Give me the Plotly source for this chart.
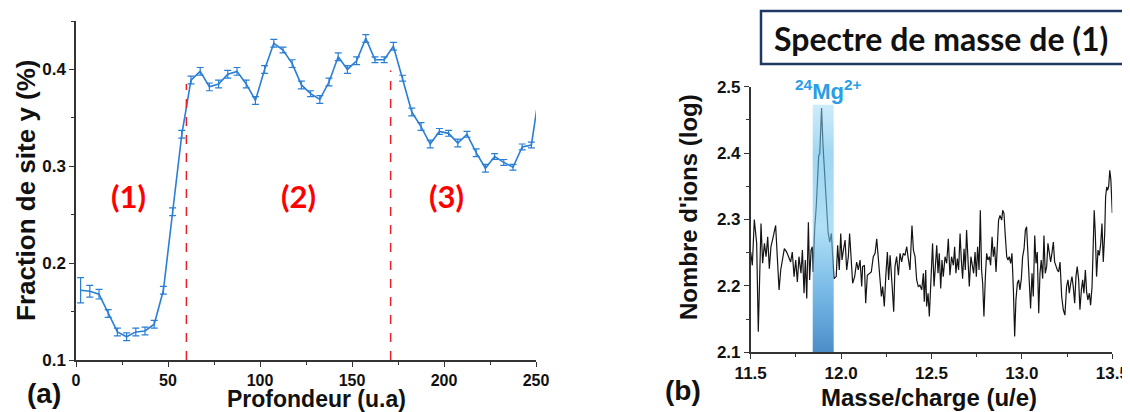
import plotly.graph_objects as go

# page body has an 8px margin: figure fills the rest of the 1130x412 window
W, H = 1122, 404
OFF = 8

# ---------------- Data (a) ----------------
depth = [2.5 + 5 * i for i in range(51)]
site_fraction = [0.172, 0.171, 0.168, 0.148, 0.129, 0.124, 0.129, 0.130, 0.137, 0.172,
                 0.253, 0.333, 0.389, 0.398, 0.382, 0.385, 0.395, 0.398, 0.385, 0.368,
                 0.400, 0.427, 0.420, 0.406, 0.384, 0.375, 0.369, 0.387, 0.413, 0.400,
                 0.409, 0.432, 0.410, 0.410, 0.424, 0.391, 0.356, 0.341, 0.323, 0.336,
                 0.334, 0.324, 0.333, 0.314, 0.298, 0.310, 0.304, 0.299, 0.320, 0.322,
                 0.385]
site_err = [0.013, 0.006, 0.005, 0.004, 0.004, 0.004, 0.004, 0.004, 0.004, 0.004,
            0.004, 0.004, 0.004, 0.004, 0.004, 0.004, 0.004, 0.004, 0.004, 0.004,
            0.004, 0.004, 0.003, 0.004, 0.004, 0.003, 0.004, 0.004, 0.004, 0.004,
            0.004, 0.004, 0.003, 0.003, 0.004, 0.003, 0.004, 0.004, 0.004, 0.003,
            0.003, 0.004, 0.003, 0.004, 0.004, 0.003, 0.003, 0.003, 0.003, 0.003,
            0.004]
boundaries = [60, 171]
boundary_tops = [0.385, 0.399]
zone_labels = ["(1)", "(2)", "(3)"]
zone_x = [28.4, 120.8, 201.5]
zone_y = 0.2696

# ---------------- Data (b) ----------------
mass = [11.500, 11.509, 11.520, 11.533, 11.542, 11.552, 11.557, 11.566, 11.576, 11.585,
        11.594, 11.603, 11.612, 11.622, 11.631, 11.638, 11.647, 11.657, 11.666, 11.677,
        11.686, 11.699, 11.710, 11.721, 11.730, 11.740, 11.749, 11.758, 11.767, 11.778,
        11.786, 11.795, 11.802, 11.810, 11.819, 11.826, 11.834, 11.841, 11.845, 11.854,
        11.863, 11.876, 11.882, 11.892, 11.900, 11.913, 11.928, 11.937, 11.946, 11.961,
        11.973, 11.981, 11.990, 11.998, 12.005, 12.014, 12.022, 12.031, 12.040, 12.047,
        12.057, 12.064, 12.075, 12.086, 12.095, 12.105, 12.114, 12.119, 12.129, 12.136,
        12.145, 12.156, 12.167, 12.178, 12.188, 12.197, 12.206, 12.215, 12.223, 12.230,
        12.239, 12.247, 12.256, 12.263, 12.271, 12.282, 12.291, 12.298, 12.307, 12.317,
        12.326, 12.335, 12.344, 12.353, 12.363, 12.370, 12.381, 12.392, 12.400, 12.409,
        12.418, 12.427, 12.436, 12.446, 12.455, 12.460, 12.468, 12.473, 12.481, 12.488,
        12.495, 12.501, 12.506, 12.514, 12.521, 12.529, 12.536, 12.543, 12.551, 12.558,
        12.565, 12.575, 12.584, 12.593, 12.602, 12.611, 12.621, 12.628, 12.635, 12.643,
        12.650, 12.658, 12.665, 12.672, 12.680, 12.687, 12.694, 12.702, 12.709, 12.718,
        12.726, 12.733, 12.741, 12.748, 12.755, 12.763, 12.770, 12.777, 12.783, 12.790,
        12.798, 12.805, 12.812, 12.820, 12.827, 12.835, 12.842, 12.849, 12.857, 12.864,
        12.871, 12.879, 12.888, 12.894, 12.901, 12.908, 12.916, 12.923, 12.930, 12.938,
        12.945, 12.953, 12.960, 12.967, 12.975, 12.982, 12.989, 12.997, 13.004, 13.012,
        13.019, 13.026, 13.034, 13.041, 13.048, 13.056, 13.063, 13.071, 13.078, 13.085,
        13.093, 13.100, 13.107, 13.115, 13.122, 13.129, 13.137, 13.144, 13.152, 13.159,
        13.166, 13.174, 13.181, 13.188, 13.196, 13.203, 13.211, 13.220, 13.229, 13.238,
        13.247, 13.255, 13.262, 13.270, 13.277, 13.284, 13.292, 13.299, 13.306, 13.314,
        13.321, 13.329, 13.336, 13.343, 13.351, 13.358, 13.365, 13.373, 13.380, 13.388,
        13.395, 13.400, 13.406, 13.413, 13.421, 13.428, 13.436, 13.443, 13.450, 13.458,
        13.463, 13.469, 13.474, 13.480, 13.486, 13.492, 13.500]
log_ions = [2.251, 2.231, 2.300, 2.264, 2.131, 2.244, 2.294, 2.234, 2.264, 2.244,
            2.274, 2.226, 2.259, 2.271, 2.284, 2.291, 2.244, 2.194, 2.224, 2.246,
            2.256, 2.251, 2.244, 2.236, 2.251, 2.214, 2.239, 2.206, 2.244, 2.219,
            2.254, 2.189, 2.239, 2.181, 2.296, 2.209, 2.254, 2.259, 2.221, 2.286,
            2.321, 2.396, 2.399, 2.468, 2.411, 2.341, 2.281, 2.266, 2.279, 2.211,
            2.214, 2.261, 2.224, 2.279, 2.239, 2.256, 2.269, 2.224, 2.244, 2.279,
            2.221, 2.204, 2.214, 2.236, 2.224, 2.239, 2.199, 2.229, 2.231, 2.174,
            2.216, 2.219, 2.221, 2.244, 2.249, 2.271, 2.241, 2.206, 2.184, 2.199,
            2.169, 2.214, 2.251, 2.209, 2.246, 2.201, 2.161, 2.229, 2.244, 2.216,
            2.249, 2.236, 2.249, 2.246, 2.259, 2.244, 2.224, 2.291, 2.254, 2.244,
            2.209, 2.199, 2.201, 2.194, 2.219, 2.176, 2.224, 2.169, 2.189, 2.154,
            2.194, 2.214, 2.264, 2.199, 2.229, 2.261, 2.219, 2.249, 2.196, 2.239,
            2.214, 2.244, 2.234, 2.271, 2.216, 2.244, 2.231, 2.259, 2.219, 2.241,
            2.224, 2.279, 2.239, 2.211, 2.256, 2.224, 2.284, 2.224, 2.199, 2.244,
            2.231, 2.219, 2.251, 2.214, 2.259, 2.224, 2.314, 2.224, 2.204, 2.154,
            2.214, 2.249, 2.239, 2.244, 2.231, 2.274, 2.244, 2.259, 2.221, 2.254,
            2.299, 2.306, 2.299, 2.314, 2.309, 2.276, 2.244, 2.239, 2.244, 2.234,
            2.249, 2.194, 2.124, 2.179, 2.204, 2.209, 2.194, 2.211, 2.244, 2.256,
            2.284, 2.289, 2.239, 2.209, 2.166, 2.219, 2.184, 2.276, 2.234, 2.251,
            2.159, 2.219, 2.239, 2.211, 2.276, 2.219, 2.229, 2.264, 2.246, 2.236,
            2.249, 2.266, 2.236, 2.229, 2.224, 2.221, 2.236, 2.184, 2.164, 2.156,
            2.199, 2.209, 2.189, 2.204, 2.214, 2.199, 2.174, 2.214, 2.229, 2.209,
            2.164, 2.194, 2.209, 2.189, 2.224, 2.191, 2.179, 2.189, 2.171, 2.199,
            2.256, 2.314, 2.279, 2.214, 2.254, 2.246, 2.264, 2.294, 2.236, 2.279,
            2.334, 2.349, 2.344, 2.350, 2.374, 2.360, 2.310]
mg_band = [11.843, 11.959]
mg_band_top = 2.473

# ---------------- Figure ----------------
BLUE = "#2a7fd4"
RED = "#e8202a"
AX = "#333333"
TICKFONT = "Liberation Sans, Arial, sans-serif"

fig = go.Figure()

fig.add_trace(go.Scatter(
    x=depth, y=site_fraction, mode="lines",
    line=dict(color=BLUE, width=1.6),
    error_y=dict(type="data", array=site_err, visible=True, color=BLUE,
                 thickness=1.2, width=3.5),
    xaxis="x", yaxis="y", showlegend=False, hoverinfo="x+y"))

for bx, bt in zip(boundaries, boundary_tops):
    fig.add_trace(go.Scatter(
        x=[bx, bx], y=[0.1, bt], mode="lines",
        line=dict(color=RED, width=1.5, dash="dash"),
        xaxis="x", yaxis="y", showlegend=False, hoverinfo="skip"))

fig.add_trace(go.Scatter(
    x=mass, y=log_ions, mode="lines",
    line=dict(color="#141414", width=1.2),
    xaxis="x2", yaxis="y2", showlegend=False))

fig.add_trace(go.Scatter(
    x=[mg_band[0], mg_band[1], mg_band[1], mg_band[0], mg_band[0]],
    y=[2.1, 2.1, mg_band_top, mg_band_top, 2.1],
    mode="lines", line=dict(width=0), fill="toself",
    fillgradient=dict(type="vertical", start=2.1, stop=mg_band_top,
                      colorscale=[[0, "rgba(44,120,191,0.85)"],
                                  [0.25, "rgba(62,155,219,0.7)"],
                                  [0.5, "rgba(123,203,240,0.6)"],
                                  [0.8, "rgba(97,188,233,0.6)"],
                                  [1, "rgba(155,217,245,0.5)"]]),
    xaxis="x2", yaxis="y2", showlegend=False, hoverinfo="skip"))

common_axis = dict(showline=True, linecolor=AX, linewidth=1.5, ticks="outside",
                   ticklen=5, tickwidth=1.3, tickcolor=AX, showgrid=False,
                   zeroline=False, mirror=False, automargin=False)

def px_x(p):
    return (p - OFF) / W

def px_y(p):
    return 1 - (p - OFF) / H

fig.update_layout(
    width=W, height=H, margin=dict(l=0, r=0, t=0, b=0, autoexpand=False),
    paper_bgcolor="white", plot_bgcolor="white",
    xaxis=dict(domain=[px_x(76), px_x(536)], range=[0, 250], anchor="y",
               tickvals=[0, 50, 100, 150, 200, 250],
               minor=dict(ticks="outside", ticklen=3, tickcolor=AX, dtick=25, tick0=0),
               tickfont=dict(family=TICKFONT, size=16, color="#111", weight="bold"),
               **common_axis),
    yaxis=dict(domain=[px_y(360), px_y(21)], range=[0.1, 0.45], anchor="x",
               tickvals=[0.1, 0.2, 0.3, 0.4], tickformat=".1f",
               minor=dict(ticks="outside", ticklen=3, tickcolor=AX, dtick=0.05, tick0=0.1),
               tickfont=dict(family=TICKFONT, size=17, color="#111", weight="bold"),
               **common_axis),
    xaxis2=dict(domain=[px_x(750.7), px_x(1112.3)], range=[11.5, 13.5], anchor="y2",
                tickvals=[11.5, 12.0, 12.5, 13.0, 13.5], tickformat=".1f",
                minor=dict(ticks="outside", ticklen=3, tickcolor=AX, dtick=0.25, tick0=11.5),
                tickfont=dict(family=TICKFONT, size=17, color="#111", weight="bold"),
                **common_axis),
    yaxis2=dict(domain=[px_y(352.3), px_y(86.7)], range=[2.1, 2.5], anchor="x2",
                tickvals=[2.1, 2.2, 2.3, 2.4, 2.5], tickformat=".1f",
                minor=dict(ticks="outside", ticklen=3, tickcolor=AX, dtick=0.05, tick0=2.1),
                tickfont=dict(family=TICKFONT, size=17, color="#111", weight="bold"),
                **common_axis),
)

ann_font = dict(family=TICKFONT, color="#111", weight="bold")
annotations = [
    dict(text="Fraction de site y (%)", x=px_x(26), y=px_y(190), textangle=-90,
         font=dict(size=26, **ann_font)),
    dict(text="Profondeur (u.a)", x=px_x(316), y=px_y(399), font=dict(size=23, **ann_font)),
    dict(text="(a)", x=px_x(44), y=px_y(393), font=dict(size=28, **ann_font)),
    dict(text="Nombre d'ions (log)", x=px_x(688), y=px_y(207), textangle=-90,
         font=dict(size=24, **ann_font)),
    dict(text="Masse/charge (u/e)", x=px_x(929), y=px_y(397), font=dict(size=24, **ann_font)),
    dict(text="(b)", x=px_x(683), y=px_y(390), font=dict(size=28, **ann_font)),
    dict(text="Spectre de masse de (1)", x=px_x(941), y=px_y(39),
         font=dict(family="Lato, sans-serif", size=32, color="#111", weight="bold")),
    dict(text="<sup>24</sup>Mg<sup>2+</sup>", x=11.928, y=2.495, xref="x2", yref="y2",
         font=dict(family=TICKFONT, size=22, color="#2a9ee6", weight="bold")),
]
for lbl, zx in zip(zone_labels, zone_x):
    annotations.append(dict(text=lbl, x=zx, y=zone_y, xref="x", yref="y",
                            font=dict(family="Lato, sans-serif", size=31, color="#ff0000",
                                      weight="bold")))
for a in annotations:
    a.setdefault("xref", "paper")
    a.setdefault("yref", "paper")
    a.update(showarrow=False, xanchor="center", yanchor="middle")
fig.update_layout(annotations=annotations)

fig.add_shape(type="rect", xref="paper", yref="paper",
              x0=px_x(761), x1=px_x(1126), y0=px_y(64), y1=px_y(11),
              line=dict(color="#203864", width=2.5), fillcolor="rgba(0,0,0,0)")

fig.write_html("out.html")
